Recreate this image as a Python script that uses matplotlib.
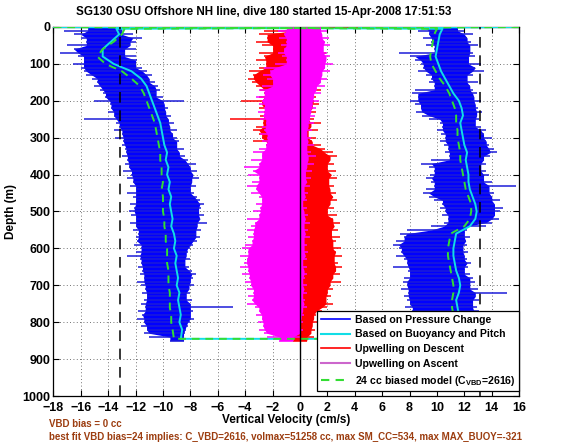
import numpy as np
import matplotlib
matplotlib.use('Agg')
import matplotlib.pyplot as plt
from matplotlib.lines import Line2D

plt.rcParams['font.family'] = ['Liberation Sans', 'DejaVu Sans']
plt.rcParams['font.weight'] = 'bold'
plt.rcParams['mathtext.fontset'] = 'custom'
plt.rcParams['mathtext.rm'] = 'Liberation Sans:bold'
plt.rcParams['mathtext.bf'] = 'Liberation Sans:bold'

# depth grid (m) for the noisy profiles, one value every 10 m
band_depth = np.arange(0, 860, 10)

# Based on Pressure Change, descent: left / right edge of the trace (cm/s)
desc_left = [-15.5, -17.2, -16.5, -16.0, -15.6, -17.0, -16.5, -17.5, -16.2, -15.8,
             -16.6, -16.0, -15.8, -15.6, -15.2, -14.8, -15.0, -14.6, -14.4, -14.2,
             -15.0, -13.9, -13.8, -14.0, -13.6, -15.8, -13.4, -13.2, -13.6, -13.0,
             -13.5, -12.9, -13.0, -12.8, -12.7, -13.0, -12.6, -12.8, -12.5, -12.9,
             -12.3, -12.6, -12.2, -12.4, -12.0, -12.6, -12.2, -12.0, -12.4, -12.1,
             -12.5, -12.3, -12.0, -12.4, -12.0, -12.2, -11.8, -12.0, -11.9, -12.1,
             -11.6, -12.0, -12.6, -11.7, -11.6, -11.8, -11.5, -11.7, -11.4, -11.9,
             -11.6, -11.3, -11.5, -11.2, -11.4, -11.6, -11.3, -11.8, -11.5, -11.9,
             -11.4, -11.6, -11.2, -11.4, -11.0, -9.5]
desc_right = [-12.5, -13.0, -12.2, -11.5, -12.0, -12.4, -12.0, -12.8, -12.0, -11.9,
              -12.0, -11.5, -11.2, -10.8, -11.0, -10.6, -10.4, -10.2, -10.5, -10.0,
              -8.5, -9.9, -9.6, -9.8, -9.4, -9.6, -9.2, -9.5, -9.0, -9.3,
              -9.0, -8.8, -9.0, -8.5, -8.8, -8.4, -8.2, -7.6, -8.0, -7.5,
              -7.8, -7.4, -7.9, -7.6, -8.0, -7.7, -7.5, -7.3, -7.0, -7.2,
              -7.4, -7.0, -7.3, -6.8, -7.5, -7.2, -7.6, -7.3, -7.5, -7.8,
              -8.0, -8.2, -8.3, -8.0, -8.4, -8.1, -7.9, -7.6, -7.8, -8.0,
              -7.7, -8.1, -8.0, -8.3, -7.9, -8.0, -4.9, -7.8, -8.0, -7.7,
              -8.0, -8.2, -8.3, -8.4, -8.5, -8.5]

# Based on Pressure Change, ascent
asc_left = [9.0, 8.6, 9.4, 9.0, 9.6, 9.2, 9.8, 7.2, 8.0, 8.4,
            8.8, 9.0, 8.6, 9.2, 9.6, 9.4, 9.8, 8.4, 8.2, 8.6,
            8.0, 8.4, 8.8, 8.5, 8.9, 9.4, 10.2, 10.4, 10.0, 10.3,
            10.6, 10.2, 10.5, 10.8, 10.6, 10.9, 9.6, 8.8, 9.4, 9.8,
            9.5, 9.2, 9.6, 9.8, 9.2, 9.0, 9.4, 9.8, 10.4, 10.2,
            10.6, 10.4, 10.8, 10.5, 9.6, 7.8, 7.3, 7.6, 7.0, 6.8,
            7.2, 7.4, 7.0, 7.6, 7.8, 6.8, 7.9, 8.0, 7.6, 7.5,
            7.8, 7.4, 7.9, 7.6, 7.8, 8.0, 7.7, 8.2, 8.0, 8.3,
            8.1, 8.4, 8.2, 8.5, 8.6, 9.0]
asc_right = [11.5, 12.0, 12.6, 12.2, 12.5, 13.0, 12.4, 12.6, 12.8, 12.3,
             13.2, 12.8, 13.4, 12.6, 12.2, 13.0, 12.4, 12.6, 12.9, 12.7,
             13.2, 12.8, 13.0, 13.3, 12.9, 13.1, 12.8, 13.2, 13.6, 13.4,
             14.0, 13.6, 13.8, 14.2, 14.4, 13.9, 13.4, 13.6, 13.2, 13.6,
             13.8, 13.4, 14.0, 15.8, 13.8, 14.2, 14.0, 14.6, 14.2, 14.8,
             14.6, 14.2, 14.5, 14.0, 13.6, 12.2, 12.0, 12.4, 12.1, 12.2,
             11.9, 12.3, 12.0, 12.2, 12.5, 12.3, 12.0, 12.4, 12.6, 12.8,
             12.4, 13.0, 15.1, 12.8, 13.1, 12.6, 12.9, 13.1, 12.7, 12.9,
             12.6, 12.8, 12.5, 12.7, 12.4, 12.0]

# Upwelling on Descent
updesc_left = [-0.5, -2.6, -3.0, -2.4, -3.2, -2.8, -2.0, -3.0, -2.6, -3.2,
               -2.5, -3.0, -3.7, -3.4, -3.8, -3.5, -3.2, -2.9, -2.6, -3.0,
               -4.3, -2.8, -3.0, -2.6, -2.9, -5.1, -2.7, -3.2, -3.4, -3.0,
               -2.8, -3.4, -2.5, -2.2, -2.0, -1.8, -2.2, -1.6, -2.0, -1.5,
               -1.8, -1.4, -1.6, -1.2, -1.5, -1.0, -1.4, -0.8, -1.2, -1.0,
               -1.3, -0.9, -1.1, -0.7, -1.0, -0.6, -0.9, -0.5, -0.8, -1.0,
               -0.7, -0.9, -0.6, -0.8, -0.5, -0.9, -0.7, -1.0, -0.6, -1.2,
               -1.4, -1.0, -1.3, -0.9, -1.4, -1.1, -1.3, -1.0, -0.8, -1.0,
               -0.7, -1.0, -0.8, -1.0, -0.9, -0.5]
updesc_right = [4.2, 0.5, 0.2, -0.3, 0.0, -0.4, 1.0, 1.9, 0.3, -0.2,
                0.0, 0.5, -0.3, 0.6, -0.4, 1.2, 0.4, 1.5, 0.8, 1.2,
                1.0, 1.4, 0.9, 1.2, 0.6, 1.0, 1.5, 0.8, 1.3, 0.6,
                1.2, 0.9, 1.5, 1.8, 2.4, 2.7, 2.2, 2.5, 2.0, 2.6,
                2.3, 2.7, 2.1, 2.5, 2.2, 2.6, 2.4, 2.7, 2.2, 2.5,
                2.0, 2.7, 2.4, 2.9, 2.5, 2.8, 2.3, 2.9, 2.6, 2.4,
                3.0, 2.6, 3.1, 2.5, 2.8, 3.1, 2.6, 2.9, 2.4, 3.0,
                2.2, 2.4, 2.0, 2.3, 1.9, 2.4, 2.0, 1.6, 1.2, 1.0,
                1.3, 0.9, 1.1, 0.8, 1.0, 0.5]

# Upwelling on Ascent
upasc_left = [-1.0, -1.6, -1.2, -1.5, -1.0, -1.4, -1.2, -1.6, -1.3, -1.0,
              -1.8, -2.6, -2.2, -2.7, -2.4, -2.0, -2.8, -3.0, -2.6, -3.2,
              -2.8, -3.0, -2.6, -3.1, -2.7, -2.9, -2.5, -2.8, -2.6, -2.9,
              -2.4, -2.8, -2.5, -3.0, -3.4, -2.8, -3.6, -3.0, -4.1, -3.4,
              -3.8, -3.0, -3.5, -3.9, -3.2, -3.6, -3.0, -2.8, -3.2, -2.9,
              -3.4, -3.0, -3.9, -3.3, -3.6, -3.9, -3.4, -3.8, -3.5, -4.0,
              -4.2, -3.8, -4.4, -3.9, -4.1, -4.4, -3.8, -4.2, -3.7, -4.0,
              -3.6, -3.9, -3.4, -3.8, -3.5, -3.9, -3.3, -3.0, -3.2, -2.8,
              -3.1, -2.7, -3.0, -2.6, -2.4, -1.5]
upasc_right = [1.5, 2.0, 1.6, 2.1, 1.8, 2.2, 1.7, 2.0, 2.2, 1.9,
               2.4, 1.8, 2.2, 1.6, 2.0, 1.5, 1.8, 1.2, 1.5, 1.0,
               1.4, 0.9, 1.2, 0.8, 1.1, 0.7, 1.0, 0.6, 0.9, 0.5,
               0.8, 0.6, 1.0, 0.5, 0.8, 1.2, 0.6, 1.0, 0.5, 0.9,
               0.4, 0.8, 0.5, 0.7, 0.3, 0.6, 0.4, 0.5, 0.2, 0.5,
               0.3, 0.6, 0.4, 0.7, 0.3, 0.6, 0.4, 0.7, 0.3, 0.5,
               0.3, 0.6, 0.4, 0.5, 0.2, 0.5, 0.3, 0.5, 0.4, 0.2,
               0.5, 0.3, 0.5, 0.2, 0.4, 0.3, 0.5, 0.2, 0.3, 0.1,
               0.2, 0.0, 0.2, 0.1, 0.0, -0.5]

# Based on Buoyancy and Pitch / 24 cc biased model (smoother, every 20 m)
model_depth = [0, 5, 20, 40, 60, 80, 100, 120, 140, 160, 180, 200, 220, 240, 260,
               280, 300, 320, 340, 360, 380, 400, 420, 440, 460, 480, 500, 520, 540,
               560, 580, 600, 620, 640, 660, 680, 700, 720, 740, 760, 780, 800, 820, 845]
bp_desc = [18, -13.4, -13.2, -13.8, -14.4, -14.4, -13.6, -12.3, -11.6, -11.2, -11.0,
           -10.8, -10.6, -10.4, -10.2, -10.1, -10.0, -9.9, -9.7, -9.8, -9.6, -9.7,
           -9.5, -9.6, -9.4, -9.5, -9.4, -9.3, -9.4, -9.2, -9.1, -9.2, -9.0, -9.1,
           -9.0, -8.9, -9.0, -8.8, -8.9, -8.8, -8.7, -8.8, -8.6, -8.7]
bp_asc = [-20, 10.4, 10.2, 10.1, 10.0, 9.9, 10.1, 10.3, 10.6, 10.9, 11.2, 11.6,
          11.8, 11.9, 11.7, 11.8, 11.9, 12.0, 12.2, 12.1, 12.2, 12.3, 12.3, 12.4,
          12.6, 12.8, 12.9, 12.8, 12.4, 11.4, 11.3, 11.2, 11.2, 11.3, 11.4, 11.6,
          11.7, 11.6, 11.4, 11.5, 11.6, 11.5, 11.6, 11.5]
model_desc = [18, -12.8, -13.0, -13.6, -14.4, -14.8, -14.2, -13.0, -12.3, -11.7,
              -11.4, -11.2, -11.0, -10.8, -10.6, -10.5, -10.4, -10.3, -10.2, -10.2,
              -10.1, -10.1, -10.0, -10.1, -10.0, -10.0, -10.0, -9.9, -9.9, -9.8,
              -9.8, -9.7, -9.7, -9.7, -9.6, -9.6, -9.6, -9.5, -9.5, -9.5, -9.4,
              -9.4, -9.3, -9.2]
model_asc = [-20, 10.0, 9.8, 9.7, 9.6, 9.5, 9.6, 9.9, 10.2, 10.6, 10.9, 11.1, 11.3,
             11.4, 11.4, 11.5, 11.5, 11.6, 11.7, 11.7, 11.8, 11.9, 12.0, 12.1, 12.3,
             12.5, 12.5, 12.4, 12.0, 11.0, 10.9, 10.8, 10.8, 10.9, 11.0, 11.1, 11.2,
             11.2, 11.1, 11.1, 11.2, 11.1, 11.2, 11.1]

vbd_limit = 13.15  # dashed reference lines

title = 'SG130 OSU Offshore NH line, dive 180 started 15-Apr-2008 17:51:53'
note1 = 'VBD bias = 0 cc'
note2 = ('best fit VBD bias=24 implies: C_VBD=2616, volmax=51258 cc, '
         'max SM_CC=534, max MAX_BUOY=-321')

BLUE = '#0000ff'
CYAN = '#11dde6'
RED = '#ff0000'
MAGENTA = '#ff00ff'
GREEN = '#33dd33'
BROWN = '#9c3d10'


def inner_edges(left, right):
    # core of a noisy trace: the part every neighbouring sample covers
    lp = np.pad(np.asarray(left, float), 1, mode='edge')
    rp = np.pad(np.asarray(right, float), 1, mode='edge')
    core_l = np.maximum(np.maximum(lp[:-2], lp[1:-1]), lp[2:])
    core_r = np.minimum(np.minimum(rp[:-2], rp[1:-1]), rp[2:])
    return core_l, np.maximum(core_r, core_l)


def noisy_trace(ax, left, right, color, spike_color, z):
    core_l, core_r = inner_edges(left, right)
    ax.fill_betweenx(band_depth, core_l, core_r, color=color, lw=0, zorder=z)
    ax.hlines(band_depth, left, right, color=spike_color, lw=1.1, zorder=z)


fig = plt.figure(figsize=(5.68, 4.42), dpi=100)
ax = fig.add_axes([0.094, 0.104, 0.820, 0.835])

noisy_trace(ax, desc_left, desc_right, BLUE, '#1c1cd8', 2)
noisy_trace(ax, asc_left, asc_right, BLUE, '#1c1cd8', 2)

# buoyancy/pitch estimate: descent then ascent (bottom to top)
bp_x = bp_desc + bp_asc[::-1]
bp_y = model_depth + model_depth[::-1]
ax.plot(bp_x, bp_y, color=CYAN, lw=1.4, zorder=3)

noisy_trace(ax, updesc_left, updesc_right, RED, RED, 3)
noisy_trace(ax, upasc_left, upasc_right, MAGENTA, MAGENTA, 4)

mod_x = model_desc + model_asc[::-1]
ax.plot(mod_x, bp_y, color=GREEN, lw=1.4, ls=(0, (4, 3)), zorder=5)

ax.axvline(0, color='k', lw=1.0, zorder=6)
ax.axvline(-vbd_limit, color='k', lw=1.1, ls=(0, (7, 5)), zorder=6)
ax.axvline(vbd_limit, color='k', lw=1.1, ls=(0, (7, 5)), zorder=6)

ax.set_xlim(-18, 16)
ax.set_ylim(1000, 0)
ax.set_xticks(range(-18, 17, 2))
ax.set_yticks(range(0, 1001, 100))
ax.grid(True, color='#444444', ls=(0, (1, 3)), lw=0.6)
ax.set_axisbelow(True)
ax.tick_params(direction='in', top=True, right=True, length=4, width=0.8,
               labelsize=9, pad=2)
ax.tick_params(axis='x', pad=4)
for lab in ax.get_xticklabels() + ax.get_yticklabels():
    lab.set_fontweight('bold')
for s in ax.spines.values():
    s.set_linewidth(0.9)

fig.text(0.465, 0.972, title, fontsize=8.4, fontweight='bold',
         ha='center', va='center')
ax.set_xlabel('Vertical Velocity (cm/s)', fontsize=8.5, fontweight='bold', labelpad=0)
ax.set_ylabel('Depth (m)', fontsize=8.5, fontweight='bold', labelpad=4)

handles = [Line2D([], [], color=BLUE, lw=1.2),
           Line2D([], [], color=CYAN, lw=1.5),
           Line2D([], [], color=RED, lw=1.2),
           Line2D([], [], color='#cc66cc', lw=1.5),
           Line2D([], [], color=GREEN, lw=1.5, ls=(0, (4, 3)))]
labels = ['Based on Pressure Change', 'Based on Buoyancy and Pitch',
          'Upwelling on Descent', 'Upwelling on Ascent',
          r'24 cc biased model (C$_{\mathbf{VBD}}$=2616)']
leg = ax.legend(handles, labels, loc='lower right', bbox_to_anchor=(1.0, 0.013),
                borderaxespad=0, handlelength=2.8, handletextpad=0.45,
                labelspacing=0.45, borderpad=0.35, fancybox=False, framealpha=1,
                edgecolor='k', prop={'weight': 'bold', 'size': 7.6})
leg.get_frame().set_linewidth(0.9)
leg.set_zorder(10)

fig.text(0.086, 0.040, note1, color=BROWN, fontsize=7, fontweight='bold',
         va='center')
fig.text(0.086, 0.012, note2, color=BROWN, fontsize=7, fontweight='bold',
         va='center')

fig.savefig('out.png', dpi=100)
